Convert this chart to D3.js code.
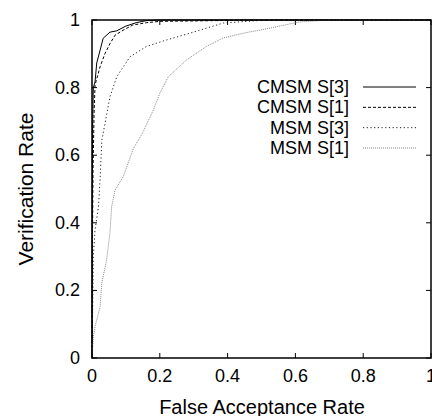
<!DOCTYPE html>
<html lang="en">
<head>
<meta charset="utf-8">
<script src="https://cdn.jsdelivr.net/npm/d3@7"></script>
<style>
  body { margin: 0; background: #fff; }
  text { font-family: "Liberation Sans", Arial, sans-serif; fill: #000; }
  .tick-label, .leg-label { font-size: 18px; }
  .axis-title { font-size: 20px; }
  .curve { fill: none; }
</style>
</head>
<body>
<div id="chart"></div>
<script>
// series: [false acceptance rate, verification rate]
var cmsmS3 = [[0,0],[0.0005,0.4],[0.002,0.7],[0.004,0.8],[0.009,0.817],[0.014,0.873],[0.024,0.911],
  [0.033,0.946],[0.053,0.964],[0.073,0.968],[0.10,0.982],[0.13,0.992],[0.16,0.998],[0.2,1],[1,1]];
var cmsmS1 = [[0,0],[0.001,0.3],[0.003,0.55],[0.006,0.72],[0.009,0.808],[0.024,0.862],[0.038,0.90],
  [0.053,0.93],[0.068,0.955],[0.092,0.97],[0.12,0.985],[0.16,0.992],[0.2,0.996],[0.35,0.998],[0.5,1],[1,1]];
var msmS3 = [[0,0],[0.002,0.15],[0.004,0.30],[0.009,0.379],[0.019,0.447],[0.024,0.53],[0.029,0.645],
  [0.033,0.665],[0.053,0.773],[0.073,0.832],[0.112,0.891],[0.161,0.922],[0.22,0.941],[0.289,0.961],
  [0.387,0.991],[0.486,0.998],[0.55,1],[1,1]];
var msmS1 = [[0,0],[0.004,0.063],[0.009,0.093],[0.024,0.152],[0.029,0.222],[0.043,0.29],[0.053,0.37],
  [0.058,0.448],[0.068,0.497],[0.092,0.536],[0.122,0.62],[0.151,0.669],[0.181,0.734],[0.2,0.783],
  [0.225,0.832],[0.279,0.882],[0.338,0.922],[0.387,0.947],[0.456,0.963],[0.496,0.970],[0.61,0.994],
  [0.7,1],[1,1]];

var seriesNames = ["CMSM S[3]", "CMSM S[1]", "MSM S[3]", "MSM S[1]"];
var xTicks = [0, 0.2, 0.4, 0.6, 0.8, 1];
var yTicks = [0, 0.2, 0.4, 0.6, 0.8, 1];

var styles = [
  {color: "#000", dash: null},
  {color: "#000", dash: "3,2"},
  {color: "#222", dash: "1.2,2.5"},
  {color: "#888", dash: "1,1"}
];

var width = 432, height = 416;
var plot = {left: 92, right: 431, top: 20, bottom: 358};

var svg = d3.select("#chart").append("svg")
  .attr("width", width)
  .attr("height", height);

var x = d3.scaleLinear().domain([0, 1]).range([plot.left, plot.right]);
var y = d3.scaleLinear().domain([0, 1]).range([plot.bottom, plot.top]);

// inward ticks like gnuplot, mirrored on top and right
var tickLen = 5;
svg.selectAll(".xt").data(xTicks).enter().append("path")
  .attr("d", function(d) {
    return "M" + x(d) + "," + plot.bottom + "v" + (-tickLen) +
           "M" + x(d) + "," + plot.top + "v" + tickLen;
  })
  .attr("stroke", "#000").attr("stroke-width", 1);
svg.selectAll(".yt").data(yTicks).enter().append("path")
  .attr("d", function(d) {
    return "M" + plot.left + "," + y(d) + "h" + tickLen +
           "M" + plot.right + "," + y(d) + "h" + (-tickLen);
  })
  .attr("stroke", "#000").attr("stroke-width", 1);

svg.selectAll(".xl").data(xTicks).enter().append("text")
  .attr("class", "tick-label")
  .attr("x", function(d) { return x(d); })
  .attr("y", plot.bottom + 24)
  .attr("text-anchor", "middle")
  .text(function(d) { return String(d); });
svg.selectAll(".yl").data(yTicks).enter().append("text")
  .attr("class", "tick-label")
  .attr("x", 80)
  .attr("y", function(d) { return y(d) + 6; })
  .attr("text-anchor", "end")
  .text(function(d) { return String(d); });

svg.append("text")
  .attr("class", "axis-title")
  .attr("x", 262)
  .attr("y", 414)
  .attr("text-anchor", "middle")
  .text("False Acceptance Rate");
svg.append("text")
  .attr("class", "axis-title")
  .style("font-size", "21px")
  .attr("transform", "translate(33,189) rotate(-90)")
  .attr("text-anchor", "middle")
  .text("Verification Rate");

var line = d3.line()
  .x(function(d) { return x(d[0]); })
  .y(function(d) { return y(d[1]); });

var allSeries = [cmsmS3, cmsmS1, msmS3, msmS1];

svg.selectAll(".curve").data(allSeries).enter().append("path")
  .attr("class", "curve")
  .attr("d", line)
  .attr("stroke", function(d, i) { return styles[i].color; })
  .attr("stroke-width", 1)
  .attr("stroke-dasharray", function(d, i) { return styles[i].dash; });

// legend
var legY = d3.scalePoint().domain(seriesNames).range([87, 148]);
svg.selectAll(".legText").data(seriesNames).enter().append("text")
  .attr("class", "leg-label")
  .attr("x", 349)
  .attr("y", function(d) { return legY(d) + 6; })
  .attr("text-anchor", "end")
  .text(function(d) { return d; });
svg.selectAll(".legLine").data(seriesNames).enter().append("path")
  .attr("d", function(d) { return "M363," + legY(d) + "H416"; })
  .attr("stroke", function(d, i) { return styles[i].color; })
  .attr("stroke-width", 1)
  .attr("stroke-dasharray", function(d, i) { return styles[i].dash; });

// frame
svg.append("rect")
  .attr("x", plot.left).attr("y", plot.top)
  .attr("width", plot.right - plot.left).attr("height", plot.bottom - plot.top)
  .attr("fill", "none").attr("stroke", "#000").attr("stroke-width", 1.5);
</script>
</body>
</html>
